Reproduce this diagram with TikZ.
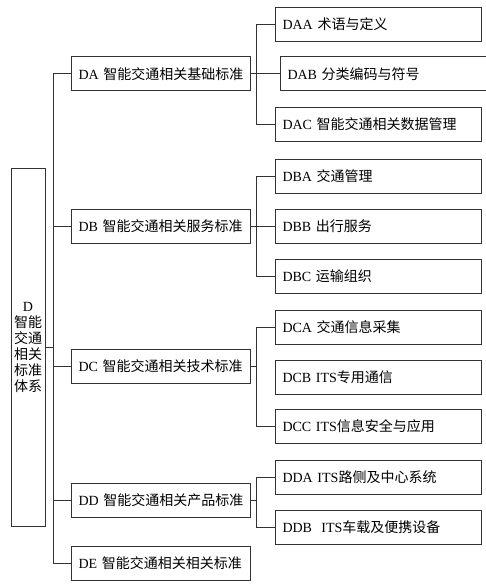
\documentclass[tikz,border=0pt]{standalone}
\usepackage{fontspec}
\setmainfont{Liberation Serif}
\newfontfamily\zh{Noto Sans CJK SC}

\begin{document}
\begin{tikzpicture}[x=1pt,y=-1pt,line width=1pt,draw=black!80,
  rootbox/.style={draw,minimum width=34pt,minimum height=357pt,inner sep=0pt,text width=30pt,align=center,font=\fontsize{14}{16}\selectfont},
  levelone/.style={draw,anchor=west,minimum height=34pt,inner xsep=7pt,inner ysep=0pt,text width=165pt,align=left,font=\fontsize{14}{16}\selectfont},
  leveltwo/.style={draw,anchor=west,minimum height=34pt,inner xsep=7pt,inner ysep=0pt,text width=192pt,align=left,font=\fontsize{14}{16}\selectfont}]
\path[use as bounding box] (0,0) rectangle (485,585);
% root
\node[rootbox] (D) at (28,347.5) {D\\{\zh 智能}\\{\zh 交通}\\{\zh 相关}\\{\zh 标准}\\{\zh 体系}};
% first level
\node[levelone] (DA) at (71,74) {DA {\zh 智能交通相关基础标准}};
\node[levelone] (DB) at (71,226.5) {DB {\zh 智能交通相关服务标准}};
\node[levelone] (DC) at (71,366.5) {DC {\zh 智能交通相关技术标准}};
\node[levelone] (DD) at (71,500) {DD {\zh 智能交通相关产品标准}};
\node[levelone] (DE) at (71,563.5) {DE {\zh 智能交通相关相关标准}};
% second level
\node[leveltwo] (DAA) at (275,24.5) {DAA {\zh 术语与定义}};
\node[leveltwo] (DAB) at (280,74) {DAB {\zh 分类编码与符号}};
\node[leveltwo] (DAC) at (275,124.5) {DAC {\zh 智能交通相关数据管理}};
\node[leveltwo] (DBA) at (275,176.5) {DBA {\zh 交通管理}};
\node[leveltwo] (DBB) at (275,226.5) {DBB {\zh 出行服务}};
\node[leveltwo] (DBC) at (275,276) {DBC {\zh 运输组织}};
\node[leveltwo] (DCA) at (275,327) {DCA {\zh 交通信息采集}};
\node[leveltwo] (DCB) at (275,377) {DCB ITS{\zh 专用通信}};
\node[leveltwo] (DCC) at (275,426) {DCC ITS{\zh 信息安全与应用}};
\node[leveltwo] (DDA) at (275,477) {DDA ITS{\zh 路侧及中心系统}};
\node[leveltwo] (DDB) at (275,527) {DDB\ \ ITS{\zh 车载及便携设备}};
% trunk
\draw (D.east) -- ++(8,0);
\draw (DA.west) -- ++(-18,0) |- (DE.west);
\draw (DB.west) -- ++(-18,0);
\draw (DC.west) -- ++(-18,0);
\draw (DD.west) -- ++(-18,0);
% branches
\draw (DAA.west) -- ++(-19,0) |- (DAC.west);
\draw (DA.east) -- (DAB.west);
\draw (DBA.west) -- ++(-19,0) |- (DBC.west);
\draw (DB.east) -- (DBB.west);
\draw (DCA.west) -- ++(-19,0) |- (DCC.west);
\draw (DC.east) -- ++(6,0);
\draw (DDA.west) -- ++(-19,0) |- (DDB.west);
\draw (DD.east) -- ++(6,0);
\end{tikzpicture}
\end{document}
